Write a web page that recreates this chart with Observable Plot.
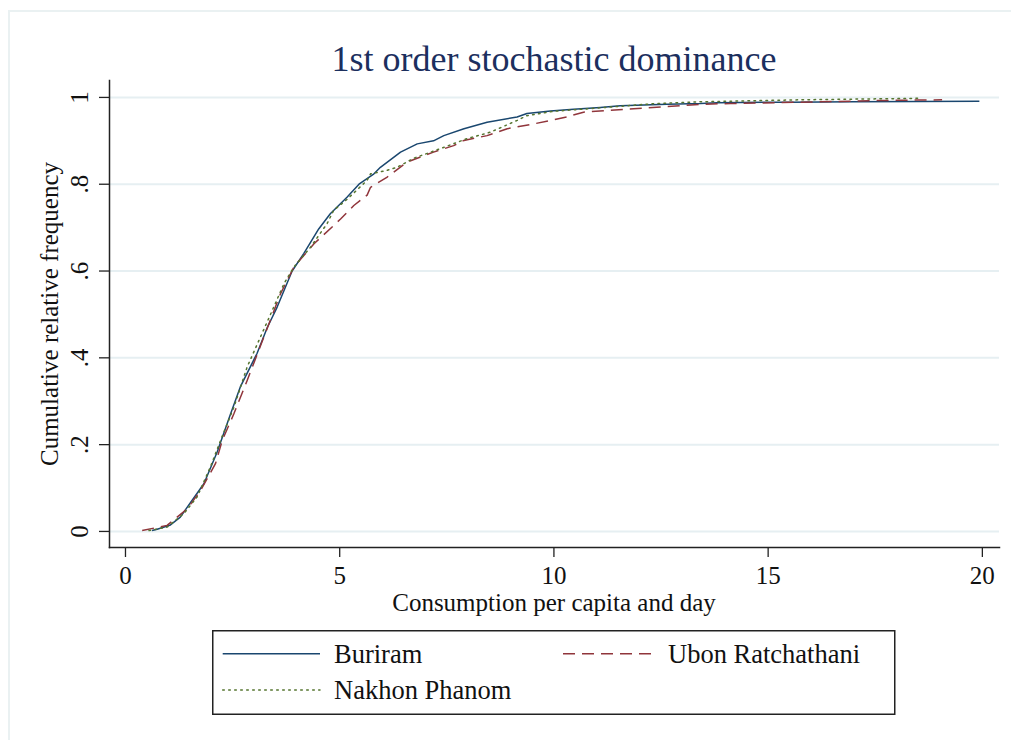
<!DOCTYPE html>
<html>
<head>
<meta charset="utf-8">
<script src="https://cdn.jsdelivr.net/npm/d3@7"></script>
<script src="https://cdn.jsdelivr.net/npm/@observablehq/plot@0.6"></script>
<style>
  html, body { margin: 0; padding: 0; background: #fff; }
  #wrap { position: relative; width: 1011px; height: 740px; overflow: hidden; font-family: "Liberation Serif", "Times New Roman", serif; }
  #wrap > svg { position: absolute; left: 0; top: 0; }
  #border { position: absolute; left: 8px; top: 10px; width: 1100px; height: 800px; border-left: 2px solid #eaf1f2; border-top: 2px solid #eaf1f2; }
</style>
</head>
<body>
<div id="wrap"><div id="border"></div></div>
<script>
// ---- data ----
const seriesNames = ["Buriram", "Ubon Ratchathani", "Nakhon Phanom"];
const seriesColors = ["#1a476f", "#90353b", "#55752f"];

const buriramX = [0.62,0.74,1.05,1.28,1.52,1.83,2.14,2.45,2.68,3.07,3.31,3.54,3.89,4.16,4.51,4.78,5.17,5.45,5.80,5.95,6.42,6.81,7.19,7.43,7.90,8.44,9.14,9.37,9.92,10.46,11.08,11.55,12.64,13.42,13.81,15.5,17.0,19.93];
const buriramF = [0.002,0.005,0.015,0.033,0.067,0.11,0.183,0.27,0.333,0.41,0.47,0.517,0.60,0.64,0.697,0.732,0.77,0.80,0.824,0.839,0.874,0.893,0.90,0.912,0.928,0.943,0.955,0.963,0.969,0.973,0.977,0.981,0.984,0.986,0.988,0.989,0.990,0.991];

const ubonX = [0.39,0.97,1.44,1.75,2.10,2.26,2.53,2.84,3.23,3.62,3.93,4.40,4.86,5.02,5.33,5.64,5.72,6.10,6.57,7.19,7.66,7.90,8.44,8.91,9.53,10.30,10.69,11.86,12.64,13.42,14.12,15.75,17.70,19.06];
const ubonF = [0.002,0.014,0.052,0.094,0.156,0.21,0.271,0.348,0.448,0.548,0.609,0.663,0.705,0.72,0.751,0.775,0.793,0.816,0.851,0.874,0.889,0.901,0.912,0.928,0.939,0.955,0.966,0.974,0.979,0.984,0.986,0.989,0.993,0.9945];

const nakhonX = [0.55,0.97,1.36,1.67,1.98,2.22,2.53,2.84,3.15,3.46,3.70,3.93,4.32,4.71,4.86,5.17,5.64,5.72,6.10,6.34,6.73,7.35,7.97,8.52,9.14,9.37,9.99,11.08,12.25,13.42,15.75,18.55];
const nakhonF = [0.002,0.01,0.041,0.079,0.148,0.21,0.286,0.379,0.448,0.517,0.571,0.609,0.655,0.71,0.74,0.765,0.809,0.824,0.832,0.839,0.860,0.882,0.905,0.92,0.947,0.958,0.968,0.976,0.985,0.99,0.9945,0.998];

const xTicks = [0, 5, 10, 15, 20];
const yTicks = [0, 0.2, 0.4, 0.6, 0.8, 1];
const yTickLabels = ["0", ".2", ".4", ".6", ".8", "1"];

const titleText = "1st order stochastic dominance";
const xLabel = "Consumption per capita and day";
const yLabel = "Cumulative relative frequency";

// ---- build table ----
const rows = [];
[[buriramX, buriramF], [ubonX, ubonF], [nakhonX, nakhonF]].forEach(([xs, fs], i) => {
  xs.forEach((x, j) => rows.push({series: seriesNames[i], x, F: fs[j]}));
});
const yTickRows = yTicks.map((v, i) => ({v, label: yTickLabels[i]}));

const dashes = [null, "12,7", "1.6,4.4"];

const chart = Plot.plot({
  width: 1011,
  height: 740,
  marginLeft: 109,
  marginRight: 12,
  marginTop: 80,
  marginBottom: 193,
  style: {fontFamily: "'Liberation Serif', 'Times New Roman', serif", fontSize: "25px", color: "#111", background: "transparent"},
  x: {domain: [-0.373, 20.40]},
  y: {domain: [-0.037, 1.039]},
  marks: [
    Plot.gridY(yTicks, {stroke: "#e6eff2", strokeOpacity: 1, strokeWidth: 2}),
    Plot.axisX(xTicks, {tickSize: 10, tickPadding: 9, label: null, stroke: "#222", strokeWidth: 1.3, fill: "#111", fontSize: 25}),
    Plot.axisY(yTicks, {tickSize: 10, tickFormat: () => "", label: null, stroke: "#222", strokeWidth: 1.3}),
    Plot.text(yTickRows, {y: "v", text: "label", frameAnchor: "left", dx: -30, rotate: -90, textAnchor: "middle", lineAnchor: "middle", fontSize: 25, fill: "#111"}),
    Plot.frame({anchor: "left", stroke: "#222", strokeWidth: 1.5}),
    Plot.frame({anchor: "bottom", stroke: "#222", strokeWidth: 1.5}),
    ...seriesNames.map((name, i) => Plot.line(rows.filter(d => d.series === name), {
      x: "x", y: "F", stroke: seriesColors[i], strokeWidth: 1.5,
      strokeDasharray: dashes[i] || undefined,
      strokeLinecap: i === 2 ? "round" : "butt"
    }))
  ]
});
document.getElementById("wrap").appendChild(chart);

// ---- title, axis titles and legend ----
const ns = "http://www.w3.org/2000/svg";
const over = d3.select("#wrap").append("svg")
  .attr("xmlns", ns).attr("width", 1011).attr("height", 740)
  .style("font-family", "'Liberation Serif', 'Times New Roman', serif");

over.append("text").attr("x", 554).attr("y", 71).attr("text-anchor", "middle")
  .attr("font-size", 36).attr("fill", "#1c2f5e").text(titleText);
over.append("text").attr("x", 554).attr("y", 611).attr("text-anchor", "middle")
  .attr("font-size", 25).attr("fill", "#111").text(xLabel);
over.append("text").attr("transform", "translate(58,314) rotate(-90)").attr("text-anchor", "middle")
  .attr("font-size", 25).attr("fill", "#111").text(yLabel);

over.append("rect").attr("x", 212.75).attr("y", 630.75).attr("width", 682).attr("height", 83.5)
  .attr("fill", "#fff").attr("stroke", "#222").attr("stroke-width", 1.5);
const legendPos = [[222.7, 653.7], [563, 653.7], [222.7, 690]];
const sampleLen = [97.3, 94, 97.3];
const textX = [334, 668, 334];
seriesNames.forEach((name, i) => {
  const [x0, y0] = legendPos[i];
  over.append("line").attr("x1", x0).attr("x2", x0 + sampleLen[i]).attr("y1", y0).attr("y2", y0)
    .attr("stroke", seriesColors[i]).attr("stroke-width", 1.5)
    .attr("stroke-dasharray", dashes[i])
    .attr("stroke-linecap", i === 2 ? "round" : "butt");
  over.append("text").attr("x", textX[i]).attr("y", y0 + 9)
    .attr("font-size", 26.5).attr("fill", "#111").text(name);
});
</script>
</body>
</html>
